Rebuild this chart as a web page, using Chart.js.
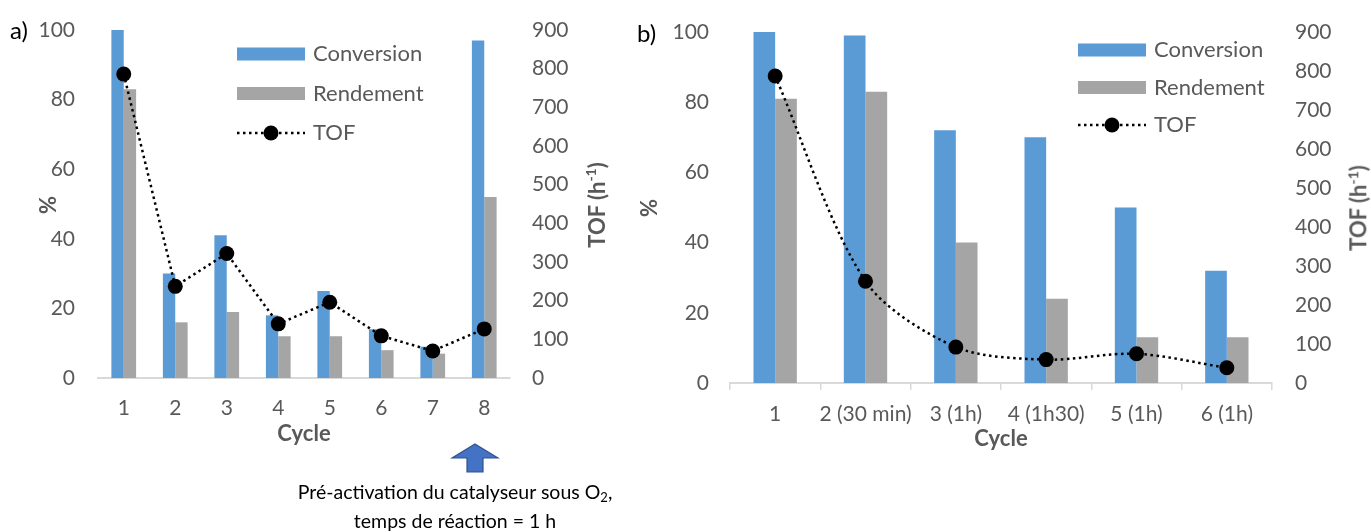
<!DOCTYPE html>
<html>
<head>
<meta charset="utf-8">
<script src="https://cdn.jsdelivr.net/npm/chart.js@4.4.0/dist/chart.umd.min.js"></script>
<style>
  body { margin:0; background:#fff; width:1371px; height:532px; overflow:hidden; position:relative; font-family: Lato, "Open Sans", sans-serif; }
  canvas { position:absolute; top:0; }
  #chartA { left:0; }
  #chartB { left:620px; }
  .tag { position:absolute; font-size:24px; color:#000; transform:translateY(-50%); }
  .ttl { position:absolute; font-weight:bold; color:#595959; font-size:22px; white-space:nowrap; transform:translate(-50%,-50%); }
  .rot { transform:translate(-50%,-50%) rotate(-90deg); }
  .note { position:absolute; left:455px; transform:translateX(-50%); font-size:19.5px; color:#000; text-align:center; white-space:nowrap; line-height:29px; top:477px; }
  .note sub { font-size:13px; vertical-align:-3px; line-height:0; }
  svg { position:absolute; left:450px; top:443px; }
</style>
</head>
<body>
<canvas id="chartA" width="620" height="460"></canvas>
<canvas id="chartB" width="751" height="460"></canvas>

<div class="tag" style="left:10px;top:29px">a)</div>
<div class="tag" style="left:637px;top:32px">b)</div>

<div class="ttl rot" style="left:47px;top:205px">%</div>
<div class="ttl rot" style="left:596px;top:205px">TOF (h<sup style="font-size:14px">-1</sup>)</div>
<div class="ttl" style="left:304px;top:432px">Cycle</div>

<div class="ttl rot" style="left:648px;top:208px">%</div>
<div class="ttl rot" style="left:1358px;top:208px">TOF (h<sup style="font-size:14px">-1</sup>)</div>
<div class="ttl" style="left:1001px;top:437px">Cycle</div>

<svg width="50" height="32" viewBox="0 0 50 32">
  <polygon points="25,1 48,15 33,15 33,29 17,29 17,15 2,15" fill="#4472C4" stroke="#2F528F" stroke-width="1.2"/>
</svg>
<div class="note">Pré-activation du catalyseur sous O<sub>2</sub>,<br>temps de réaction = 1 h</div>

<script>
// ---- data (a) ----
const cyclesA = ["1", "2", "3", "4", "5", "6", "7", "8"];
const conversionA = [100, 30, 41, 18, 25, 14, 9, 97];
const rendementA = [83, 16, 19, 12, 12, 8, 7, 52];
const tofA = [786, 237, 322, 140, 196, 109, 70, 127];

// ---- data (b) ----
const cyclesB = ["1", "2 (30 min)", "3 (1h)", "4 (1h30)", "5 (1h)", "6 (1h)"];
const conversionB = [100, 99, 72, 70, 50, 32];
const rendementB = [81, 83, 40, 24, 13, 13];
const tofB = [787, 261, 92, 60, 75, 39];

// axis ranges
const pctMax = 100, pctStep = 20;
const tofMax = 900, tofStep = 100;

const BLUE = "#5B9BD5";
const GREY = "#A5A5A5";
const TXT = "#595959";

// legend drawn inside the plot, Excel style
const cornerLegend = {
  id: "cornerLegend",
  afterDraw(chart, args, opts) {
    const ctx = chart.ctx;
    ctx.save();
    ctx.font = "22px Lato";
    ctx.textBaseline = "middle";
    chart.data.datasets.forEach((ds, i) => {
      const y = opts.y + i * opts.gap;
      if (ds.type === "line") {
        ctx.strokeStyle = ds.borderColor;
        ctx.lineWidth = ds.borderWidth;
        ctx.setLineDash(ds.borderDash);
        ctx.beginPath();
        ctx.moveTo(opts.x, y);
        ctx.lineTo(opts.x + 68, y);
        ctx.stroke();
        ctx.setLineDash([]);
        ctx.beginPath();
        ctx.arc(opts.x + 34, y, ds.pointRadius, 0, Math.PI * 2);
        ctx.fillStyle = ds.pointBackgroundColor;
        ctx.fill();
      } else {
        ctx.fillStyle = ds.backgroundColor;
        ctx.fillRect(opts.x, y - 6.5, 68, 13);
      }
      ctx.fillStyle = TXT;
      ctx.fillText(ds.label, opts.x + 76, y);
    });
    ctx.restore();
  }
};

function makeChart(id, labels, conv, rend, tof, g) {
  return new Chart(document.getElementById(id), {
    type: "bar",
    data: {
      labels: labels,
      datasets: [
        { label: "Conversion", data: conv, backgroundColor: BLUE, order: 1, yAxisID: "y",
          categoryPercentage: 0.48, barPercentage: 1 },
        { label: "Rendement", data: rend, backgroundColor: GREY, order: 2, yAxisID: "y",
          categoryPercentage: 0.48, barPercentage: 1 },
        { type: "line", label: "TOF", data: tof, yAxisID: "y2", order: 0,
          borderColor: "#000", borderWidth: 2.5, borderDash: [2.5, 3.5],
          pointRadius: 7.5, pointBackgroundColor: "#000", pointBorderWidth: 0,
          tension: g.tension }
      ]
    },
    options: {
      responsive: false,
      animation: false,
      layout: { padding: { top: g.top, left: 0, right: 0, bottom: 0 } },
      plugins: {
        legend: { display: false },
        tooltip: { enabled: false },
        cornerLegend: { x: g.legX, y: g.legY, gap: g.legGap }
      },
      scales: {
        x: {
          grid: { display: g.xTicks, drawOnChartArea: false, drawTicks: g.xTicks, tickLength: 7, color: "#D9D9D9", lineWidth: 1.5 },
          border: { display: true, color: "#D9D9D9", width: 2 },
          ticks: { color: TXT, font: { size: 21, family: "Lato" }, padding: g.xPad, maxRotation: 0, autoSkip: false },
          afterFit: s => { s.height = 460 - g.bottomY; }
        },
        y: {
          position: "left", min: 0, max: pctMax,
          grid: { display: false, drawTicks: false },
          border: { display: false },
          ticks: { stepSize: pctStep, color: TXT, font: { size: 21, family: "Lato" }, padding: g.yPad },
          afterFit: s => { s.width = g.leftW; s.paddingTop = 0; s.paddingBottom = 0; }
        },
        y2: {
          position: "right", min: 0, max: tofMax,
          grid: { display: false, drawTicks: false },
          border: { display: false },
          ticks: { stepSize: tofStep, color: TXT, font: { size: 21, family: "Lato" }, padding: g.y2Pad },
          afterFit: s => { s.width = g.rightW; s.paddingTop = 0; s.paddingBottom = 0; }
        }
      }
    },
    plugins: [cornerLegend]
  });
}

makeChart("chartA", cyclesA, conversionA, rendementA, tofA, {
  top: 30, bottomY: 378, leftW: 98, rightW: 110, yPad: 23, y2Pad: 22, xPad: 18,
  xTicks: false, tension: 0, legX: 237, legY: 54, legGap: 39.5
});

makeChart("chartB", cyclesB, conversionB, rendementB, tofB, {
  top: 32, bottomY: 383, leftW: 110, rightW: 99, yPad: 21, y2Pad: 23, xPad: 12,
  xTicks: true, tension: 0.3, legX: 458, legY: 50, legGap: 37.5
});
</script>
</body>
</html>
